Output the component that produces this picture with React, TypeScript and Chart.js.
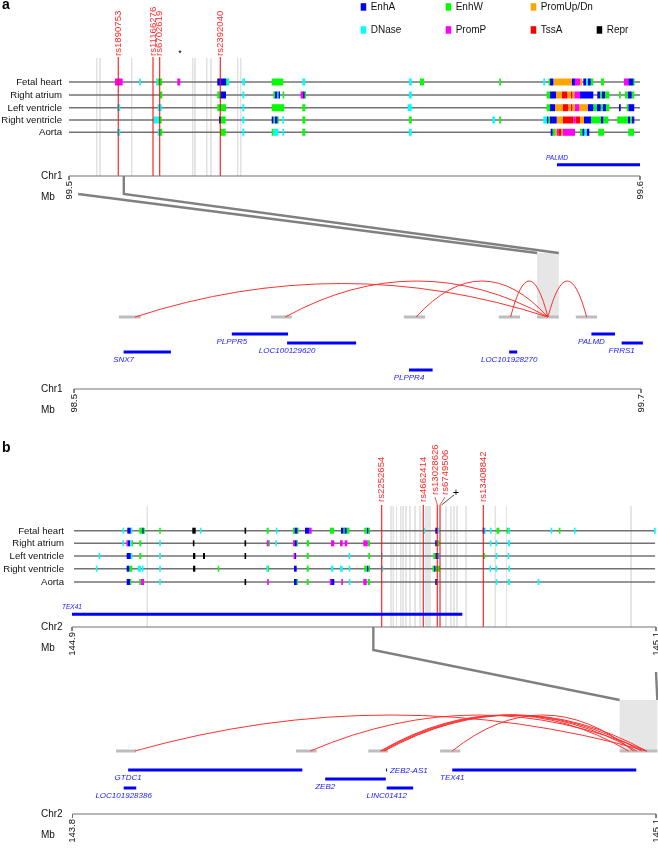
import React, { useEffect, useRef } from 'react';
import { Chart, registerables } from 'chart.js';

Chart.register(...registerables);

const W = 658;
const H = 850;
const FONT = '"Liberation Sans", Arial, Helvetica, sans-serif';

/* ---------------- chromatin states ---------------- */
const STATE_CODES = ['A', 'W', 'U', 'D', 'P', 'T', 'R'];
const STATE_NAMES = ['EnhA', 'EnhW', 'PromUp/Dn', 'DNase', 'PromP', 'TssA', 'Repr'];
const STATE_COLORS = ['#0000ff', '#00ff00', '#ffa500', '#00ffff', '#ff00ff', '#ff0000', '#000000'];
const TISSUES = ['Fetal heart', 'Right atrium', 'Left ventricle', 'Right ventricle', 'Aorta'];

/* ---------------- panel a : Chr1 ---------------- */
const A_CHR = 'Chr1';
const A_TOP_MB = [99.5, 99.6];
const A_LOW_MB = [98.5, 99.7];

// segments: [start kb, end kb (from 99.5 Mb), state]
const A_FETAL_HEART = [
  [8.06, 9.4, 'P'], [12.31, 12.61, 'D'], [15.3, 15.5, 'D'], [15.5, 16.3, 'W'], [18.97, 19.49, 'P'],
  [25.97, 27.5, 'A'], [27.5, 27.67, 'W'], [27.67, 28.07, 'D'], [30.35, 30.82, 'D'], [35.5, 37.53, 'W'],
  [40.86, 41.38, 'D'], [59.54, 60.02, 'D'], [61.47, 62.17, 'W'], [75.36, 75.66, 'W'], [83.06, 83.36, 'D'],
  [84.0, 84.24, 'W'], [84.24, 84.82, 'A'], [84.82, 88.04, 'U'], [88.04, 88.62, 'A'], [88.62, 89.49, 'P'],
  [89.49, 89.89, 'U'], [90.07, 90.54, 'A'], [90.54, 90.84, 'D'], [90.84, 91.37, 'A'], [91.37, 91.82, 'W'],
  [93.17, 93.69, 'W'], [97.2, 97.95, 'P'], [97.95, 98.83, 'A'], [98.83, 99.0, 'W'],
];
const A_RIGHT_ATRIUM = [
  [15.94, 16.34, 'W'], [25.97, 26.44, 'W'], [26.44, 27.5, 'A'], [30.35, 30.7, 'D'], [35.85, 36.0, 'W'],
  [36.0, 36.45, 'A'], [36.45, 36.65, 'D'], [36.65, 36.95, 'A'], [37.42, 37.7, 'W'], [40.57, 41.03, 'P'],
  [41.03, 41.2, 'A'], [41.2, 41.5, 'W'], [59.54, 60.02, 'D'], [83.66, 84.24, 'W'], [84.24, 85.29, 'A'],
  [85.29, 86.29, 'U'], [86.29, 87.27, 'T'], [87.27, 87.86, 'U'], [87.86, 88.14, 'T'], [88.14, 88.49, 'U'],
  [88.49, 89.49, 'P'], [89.49, 91.82, 'A'], [92.52, 92.99, 'A'], [92.99, 93.29, 'W'], [93.29, 93.87, 'A'],
  [93.87, 94.62, 'W'], [96.32, 96.62, 'W'], [97.37, 97.85, 'W'], [97.85, 98.55, 'A'], [98.55, 99.0, 'W'],
];
const A_LEFT_VENTRICLE = [
  [8.46, 8.98, 'D'], [15.53, 16.23, 'D'], [25.97, 27.5, 'W'], [30.35, 30.7, 'D'], [35.5, 37.7, 'W'],
  [40.86, 41.38, 'W'], [59.32, 60.02, 'D'], [83.66, 84.24, 'W'], [84.24, 85.12, 'A'], [85.12, 86.46, 'U'],
  [86.46, 87.44, 'T'], [87.44, 87.86, 'U'], [87.86, 88.14, 'T'], [88.14, 88.62, 'U'], [88.62, 89.37, 'P'],
  [89.37, 90.84, 'U'], [90.84, 91.82, 'A'], [91.82, 92.41, 'W'], [92.41, 93.11, 'A'], [93.11, 93.46, 'W'],
  [93.46, 94.04, 'A'], [94.04, 94.62, 'W'], [96.32, 96.62, 'A'], [97.67, 97.95, 'W'], [97.95, 99.0, 'A'],
];
const A_RIGHT_VENTRICLE = [
  [14.76, 15.76, 'D'], [15.76, 16.23, 'W'], [26.27, 26.62, 'A'], [26.62, 27.44, 'W'], [30.35, 30.7, 'D'],
  [35.5, 35.79, 'A'], [35.79, 36.08, 'W'], [36.08, 36.5, 'A'], [36.5, 36.67, 'W'], [37.36, 37.65, 'D'],
  [40.86, 41.38, 'W'], [59.54, 60.02, 'W'], [74.13, 74.6, 'D'], [75.36, 75.66, 'W'], [83.06, 83.66, 'D'],
  [83.66, 83.94, 'A'], [83.94, 84.24, 'W'], [84.24, 85.41, 'A'], [85.41, 86.46, 'U'], [86.46, 88.32, 'T'],
  [88.32, 88.74, 'P'], [88.74, 89.49, 'T'], [89.49, 90.19, 'U'], [90.19, 91.42, 'A'], [91.42, 93.11, 'W'],
  [93.11, 93.57, 'A'], [93.57, 94.45, 'W'], [96.02, 97.85, 'W'], [97.85, 98.25, 'A'], [98.25, 98.55, 'W'],
  [98.55, 99.0, 'A'],
];
const A_AORTA = [
  [8.46, 8.98, 'D'], [15.53, 15.94, 'D'], [15.94, 16.34, 'W'], [26.44, 27.44, 'W'], [30.35, 30.7, 'D'],
  [35.5, 35.79, 'W'], [35.79, 36.67, 'D'], [37.36, 37.65, 'D'], [40.86, 41.38, 'W'], [59.54, 60.02, 'D'],
  [84.36, 84.7, 'A'], [84.7, 85.12, 'W'], [85.12, 85.41, 'U'], [85.41, 85.69, 'P'], [85.69, 86.2, 'T'],
  [86.2, 86.5, 'U'], [86.5, 88.62, 'P'], [89.49, 89.89, 'W'], [89.89, 90.24, 'A'], [90.24, 90.66, 'D'],
  [90.66, 91.12, 'A'], [92.7, 93.69, 'W'], [97.95, 98.95, 'W'],
];
const A_TRACKS = [A_FETAL_HEART, A_RIGHT_ATRIUM, A_LEFT_VENTRICLE, A_RIGHT_VENTRICLE, A_AORTA];

const A_SNP_NAMES = ['rs1890753', 'rs11166276', 'rs6702619', 'rs2392040'];
const A_SNP_KB = [8.63, 14.71, 15.88, 26.5];
const A_GRAY_KB = [4.85, 5.43, 10.98, 21.66, 22.07, 24.12, 24.87, 29.54, 30.07];
const A_STAR_KB = 19.44;
const A_TOP_GENES = [{ name: 'PALMD', start: 85.46, end: 100 }];
const A_ZOOM_TOP_KB = [1.6, 9.6];
const A_ZOOM_LOW_MB = [99.48, 99.526];

const A_ANCHORS = [
  [98.595, 98.641], [98.917, 98.961], [99.198, 99.243], [99.399, 99.444], [99.48, 99.526], [99.562, 99.607],
];
// [from Mb, to Mb, relative height]
const A_LOOPS = [
  [98.629, 99.503, 0.93], [98.947, 99.503, 1], [99.224, 99.503, 1], [99.424, 99.503, 1], [99.503, 99.585, 1],
];
const A_GENES = [
  { name: 'PLPPR5', start: 98.834, end: 98.953, row: 0 },
  { name: 'LOC100129620', start: 98.951, end: 99.097, row: 1 },
  { name: 'SNX7', start: 98.605, end: 98.705, row: 2 },
  { name: 'LOC101928270', start: 99.421, end: 99.438, row: 2 },
  { name: 'PLPPR4', start: 99.209, end: 99.259, row: 4 },
  { name: 'PALMD', start: 99.595, end: 99.645, row: 0 },
  { name: 'FRRS1', start: 99.659, end: 99.704, row: 1 },
];

/* ---------------- panel b : Chr2 ---------------- */
const B_CHR = 'Chr2';
const B_TOP_MB = [144.9, 145.1];
const B_LOW_MB = [143.8, 145.1];

// segments: [start kb, end kb (from 144.9 Mb), state]
const B_FETAL_HEART = [
  [17.36, 17.81, 'D'], [18.94, 20.1, 'A'], [20.1, 20.65, 'D'], [23.05, 24.08, 'W'], [24.08, 24.42, 'A'],
  [24.42, 24.9, 'W'], [29.9, 30.38, 'W'], [41.2, 42.36, 'R'], [43.84, 44.28, 'D'], [59.14, 59.59, 'R'],
  [66.68, 67.36, 'W'], [69.86, 70.31, 'D'], [75.79, 76.13, 'W'], [76.13, 77.16, 'A'], [77.16, 77.5, 'W'],
  [79.79, 81.27, 'A'], [81.27, 82.09, 'P'], [88.36, 89.73, 'W'], [92.12, 92.91, 'A'], [92.91, 93.25, 'W'],
  [93.25, 94.07, 'A'], [94.07, 95.0, 'W'], [100.1, 100.92, 'W'], [100.92, 101.47, 'A'], [101.47, 102.05, 'W'],
  [120.31, 120.89, 'D'], [124.42, 125.1, 'A'], [125.1, 125.79, 'D'], [140.65, 141.2, 'A'], [141.2, 141.61, 'D'],
  [143.15, 143.66, 'D'], [145.38, 146.34, 'W'], [148.87, 149.42, 'W'], [149.42, 150.0, 'D'], [164.04, 164.38, 'D'],
  [166.88, 167.12, 'W'], [171.92, 172.43, 'D'], [199.32, 199.9, 'D'],
];
const B_RIGHT_ATRIUM = [
  [17.36, 17.81, 'D'], [18.73, 19.08, 'P'], [19.08, 19.86, 'A'], [19.86, 20.21, 'D'], [20.45, 20.79, 'W'],
  [23.05, 23.73, 'W'], [29.9, 30.38, 'D'], [41.44, 41.88, 'R'], [59.14, 59.59, 'R'], [66.68, 67.36, 'P'],
  [67.36, 67.7, 'W'], [69.76, 70.1, 'D'], [75.79, 76.13, 'P'], [76.13, 76.95, 'A'], [76.95, 77.3, 'W'],
  [80.38, 81.16, 'W'], [88.7, 89.83, 'P'], [91.78, 92.71, 'P'], [93.39, 94.28, 'P'], [99.76, 101.27, 'P'],
  [101.27, 102.05, 'W'], [124.42, 124.9, 'A'], [124.9, 125.79, 'W'], [143.15, 143.59, 'D'], [145.1, 145.65, 'D'],
  [149.21, 150.0, 'D'],
];
const B_LEFT_VENTRICLE = [
  [9.25, 9.59, 'D'], [18.73, 20.1, 'A'], [20.1, 20.65, 'D'], [23.05, 23.73, 'W'], [29.9, 30.38, 'D'],
  [41.44, 42.23, 'R'], [44.86, 45.55, 'R'], [59.14, 59.59, 'R'], [76.03, 76.27, 'P'], [76.27, 76.71, 'A'],
  [80.38, 81.06, 'W'], [94.86, 95.2, 'D'], [101.47, 102.05, 'W'], [105.82, 106.34, 'D'], [123.73, 124.42, 'W'],
  [124.42, 125.45, 'A'], [125.45, 125.79, 'D'], [140.86, 141.44, 'W'], [145.1, 145.65, 'D'], [149.21, 149.66, 'D'],
];
const B_RIGHT_VENTRICLE = [
  [8.22, 8.66, 'D'], [18.73, 19.62, 'A'], [19.62, 20.65, 'W'], [22.5, 23.63, 'D'], [23.97, 24.42, 'D'],
  [29.9, 30.38, 'D'], [41.44, 42.23, 'R'], [49.9, 50.45, 'W'], [66.68, 67.02, 'D'], [67.02, 67.36, 'W'],
  [76.03, 76.95, 'A'], [80.38, 81.06, 'W'], [88.7, 89.49, 'D'], [91.78, 92.71, 'D'], [94.86, 95.2, 'D'],
  [100.1, 100.92, 'W'], [100.92, 101.47, 'A'], [101.47, 102.05, 'W'], [106.06, 106.51, 'D'], [123.53, 123.97, 'W'],
  [123.97, 124.42, 'A'], [124.42, 126.03, 'W'], [142.98, 143.49, 'D'], [145.03, 145.62, 'D'], [149.49, 150.0, 'D'],
];
const B_AORTA = [
  [18.73, 19.86, 'A'], [19.86, 20.21, 'W'], [23.05, 23.53, 'W'], [23.53, 24.66, 'P'], [29.9, 30.38, 'D'],
  [59.14, 59.59, 'R'], [66.88, 67.36, 'P'], [76.03, 76.95, 'A'], [76.95, 77.3, 'W'], [80.38, 81.06, 'W'],
  [88.36, 88.7, 'P'], [88.7, 89.83, 'A'], [92.29, 92.71, 'P'], [94.86, 95.2, 'D'], [99.76, 100.92, 'P'],
  [101.27, 102.05, 'W'], [124.42, 124.9, 'A'], [124.9, 125.45, 'W'], [145.1, 145.65, 'D'], [149.21, 150.0, 'D'],
  [159.49, 160.1, 'D'],
];
const B_TRACKS = [B_FETAL_HEART, B_RIGHT_ATRIUM, B_LEFT_VENTRICLE, B_RIGHT_VENTRICLE, B_AORTA];

const B_SNP_NAMES = ['rs2252654', 'rs4662414', 'rs13028626', 'rs6749506', 'rs13408842'];
const B_SNP_KB = [106.06, 120.31, 125.1, 126.03, 140.86];
const B_GRAY_KB = [
  25.79, 109.25, 110.03, 111.13, 112.57, 113.36, 114.38, 115.75, 117.47, 119.18, 121.23, 121.92, 122.6,
  128.08, 129.79, 130.82, 131.85, 134.93, 144.97, 148.8, 191.44,
];
const B_TOP_GENES = [{ name: 'TEX41', start: 0, end: 133.66 }];
const B_ZOOM_TOP_KB = [103.2, 200];
const B_ZOOM_LOW_MB = [145.019, 145.103];

const B_ANCHORS = [
  [143.897, 143.942], [144.298, 144.344], [144.459, 144.503], [144.619, 144.664], [145.019, 145.103],
];
const B_LOOPS = [
  [143.939, 145.079, 1], [144.33, 145.079, 1], [144.486, 145.039, 1], [144.488, 145.057, 1],
  [144.492, 145.068, 1], [144.495, 145.079, 1], [144.646, 145.05, 1],
];
const B_GENES = [
  { name: 'GTDC1', start: 143.924, end: 144.312, row: 0 },
  { name: 'LOC101928386', start: 143.914, end: 143.942, row: 2 },
  { name: 'ZEB2', start: 144.363, end: 144.498, row: 1 },
  { name: 'ZEB2-AS1', start: 144.4985, end: 144.5005, row: 0, side: true },
  { name: 'LINC01412', start: 144.5, end: 144.559, row: 2 },
  { name: 'TEX41', start: 144.646, end: 145.056, row: 0 },
];

/* ---------------- layout (pixels) ---------------- */
const LAY = {
  a: {
    topPx: [69, 640], lowPx: [74, 641], rows: [82, 95, 107.7, 120, 132.3], boxH: 7, trackX: [0, 100],
    trackLabelX: 62, snpTop: 57, grayTop: 58, starY: 52, topGeneY: 164.7,
    axisY: 176, mbY: 197, bendY: 194, boxTop: 253, anchorY: 317, arcH: 36, geneY0: 334, geneDy: 9,
    lowAxisY: 389, lowMbY: 410, panelY: 9, panel: 'a',
    connStart: [194, 176], snpLabelDx: [0, 0, 0, 0], snpLabelBottoms: [56, 56, 56, 56],
  },
  b: {
    topPx: [72, 656], lowPx: [72.5, 656], rows: [530.7, 543.3, 556, 568.7, 582], boxH: 6, trackX: [0.7, 199.7],
    trackLabelX: 64, snpTop: 505, grayTop: 506, starY: 0, topGeneY: 614.3,
    axisY: 627, mbY: 648, bendY: 650, boxTop: 700, anchorY: 751, arcH: 36, geneY0: 770, geneDy: 9,
    lowAxisY: 814, lowMbY: 835, panelY: 452, panel: 'b',
    connStart: [627, 672], snpLabelDx: [0, 0, -2.3, 5, 0], snpLabelBottoms: [502, 502, 495, 495, 502],
  },
};
const LEGEND_COLS = [360.7, 445.7, 530.7, 596.7];
const LEGEND_ROWS = [7, 30];
const LEGEND_POS = [[0, 0], [0, 1], [0, 2], [1, 0], [1, 1], [1, 2], [1, 3]];

function scaleRange(v0: number, v1: number, p0: number, p1: number) {
  const k = (p1 - p0) / (v1 - v0);
  return { min: v0 - p0 / k, max: v0 + (W - p0) / k };
}

const stateColor = (c: string) => STATE_COLORS[STATE_CODES.indexOf(c)];

function buildDatasets() {
  const ds: any[] = [];
  const line = (axis: string, pts: number[][], color: string, width: number, order: number, cap = 'butt') =>
    ds.push({
      type: 'line', xAxisID: axis, yAxisID: 'y', data: pts.map(([x, y]) => ({ x, y })),
      borderColor: color, backgroundColor: color, borderWidth: width, borderCapStyle: cap,
      pointRadius: 0, pointHoverRadius: 0, pointHitRadius: 0, fill: false, tension: 0, order,
    });

  const panels = [
    { L: LAY.a, top: 'xa', low: 'xaL', tracks: A_TRACKS, snps: A_SNP_KB, gray: A_GRAY_KB, topGenes: A_TOP_GENES,
      anchors: A_ANCHORS, genes: A_GENES, topMb: A_TOP_MB, lowMb: A_LOW_MB },
    { L: LAY.b, top: 'xb', low: 'xbL', tracks: B_TRACKS, snps: B_SNP_KB, gray: B_GRAY_KB, topGenes: B_TOP_GENES,
      anchors: B_ANCHORS, genes: B_GENES, topMb: B_TOP_MB, lowMb: B_LOW_MB },
  ];
  panels.forEach((p) => {
    const L = p.L;
    const topKb = (p.topMb[1] - p.topMb[0]) * 1000;
    const kbPerPx = topKb / (L.topPx[1] - L.topPx[0]);
    const minW = 1.6 * kbPerPx;
    p.gray.forEach((k) => line(p.top, [[k, L.grayTop], [k, L.axisY]], '#e2e2e2', 1, 60));
    L.rows.forEach((y) => line(p.top, [[L.trackX[0], y], [L.trackX[1], y]], '#737373', 1.4, 40));
    p.tracks.forEach((segs: any[], i: number) => {
      const y = L.rows[i];
      segs.forEach(([s, e, c]) => {
        let a = s, b = e;
        if (b - a < minW) { const m = (a + b) / 2; a = m - minW / 2; b = m + minW / 2; }
        line(p.top, [[a, y], [b, y]], stateColor(c), L.boxH, 30);
      });
    });
    p.snps.forEach((k) => line(p.top, [[k, L.snpTop], [k, L.axisY]], 'rgba(255,0,0,0.85)', 1.2, 20));
    p.topGenes.forEach((g) => line(p.top, [[g.start, L.topGeneY], [g.end, L.topGeneY]], '#0000ff', 3, 10));
    line(p.top, [[0, L.axisY], [topKb, L.axisY]], '#707070', 1, 5);
    line(p.top, [[0, L.axisY], [0, L.axisY + 4]], '#707070', 1, 5);
    line(p.top, [[topKb, L.axisY], [topKb, L.axisY + 4]], '#707070', 1, 5);
    p.anchors.forEach(([s, e]) => line(p.low, [[s, L.anchorY], [e, L.anchorY]], '#bdbdbd', 3, 15));
    p.genes.forEach((g: any) => {
      const y = L.geneY0 + g.row * L.geneDy;
      const lowMbPerPx = (p.lowMb[1] - p.lowMb[0]) / (L.lowPx[1] - L.lowPx[0]);
      let a = g.start, b = g.end;
      if (b - a < lowMbPerPx) { const m = (a + b) / 2; a = m - lowMbPerPx / 2; b = m + lowMbPerPx / 2; }
      line(p.low, [[a, y], [b, y]], '#0000ff', 3, 10);
    });
    line(p.low, [[p.lowMb[0], L.lowAxisY], [p.lowMb[1], L.lowAxisY]], '#707070', 1, 5);
    line(p.low, [[p.lowMb[0], L.lowAxisY], [p.lowMb[0], L.lowAxisY + 4]], '#707070', 1, 5);
    line(p.low, [[p.lowMb[1], L.lowAxisY], [p.lowMb[1], L.lowAxisY + 4]], '#707070', 1, 5);
  });
  return ds;
}

function txt(ctx: CanvasRenderingContext2D, s: string, x: number, y: number, o: any = {}) {
  ctx.save();
  ctx.font = `${o.style || ''} ${o.size || 10}px ${FONT}`;
  ctx.fillStyle = o.color || '#111';
  ctx.textAlign = o.align || 'left';
  ctx.textBaseline = o.base || 'middle';
  ctx.translate(x, y);
  if (o.rot) ctx.rotate(o.rot);
  ctx.fillText(s, 0, 0);
  ctx.restore();
}

const genomePlugin = {
  id: 'genomePlugin',
  beforeDatasetsDraw(chart: any) {
    const ctx = chart.ctx;
    const s = chart.scales;
    ctx.save();
    ctx.fillStyle = '#e6e6e6';
    const boxes = [
      { ax: s.xaL, r: A_ZOOM_LOW_MB, L: LAY.a },
      { ax: s.xbL, r: B_ZOOM_LOW_MB, L: LAY.b },
    ];
    boxes.forEach(({ ax, r, L }) => {
      const x0 = ax.getPixelForValue(r[0]);
      const x1 = ax.getPixelForValue(r[1]);
      const y0 = s.y.getPixelForValue(L.boxTop);
      const y1 = s.y.getPixelForValue(L.anchorY);
      ctx.fillRect(x0, y0, x1 - x0, y1 - y0);
    });
    ctx.restore();
  },
  afterDatasetsDraw(chart: any) {
    const ctx: CanvasRenderingContext2D = chart.ctx;
    const s = chart.scales;
    const Y = (v: number) => s.y.getPixelForValue(v);
    const ROT = -Math.PI / 2;

    STATE_CODES.forEach((c, i) => {
      const [r, col] = LEGEND_POS[i];
      const x = LEGEND_COLS[col];
      const y = Y(LEGEND_ROWS[r]);
      ctx.fillStyle = STATE_COLORS[i];
      ctx.fillRect(x, y - 3.8, 5.5, 7.5);
      txt(ctx, STATE_NAMES[i], x + 10, y + 0.5, { size: 10, color: '#111' });
    });

    const panels = [
      { L: LAY.a, top: s.xa, low: s.xaL, chr: A_CHR, topMb: A_TOP_MB, lowMb: A_LOW_MB, snpNames: A_SNP_NAMES,
        snps: A_SNP_KB, topGenes: A_TOP_GENES, genes: A_GENES, loops: A_LOOPS, zt: A_ZOOM_TOP_KB, zl: A_ZOOM_LOW_MB },
      { L: LAY.b, top: s.xb, low: s.xbL, chr: B_CHR, topMb: B_TOP_MB, lowMb: B_LOW_MB, snpNames: B_SNP_NAMES,
        snps: B_SNP_KB, topGenes: B_TOP_GENES, genes: B_GENES, loops: B_LOOPS, zt: B_ZOOM_TOP_KB, zl: B_ZOOM_LOW_MB },
    ];
    panels.forEach((p) => {
      const L: any = p.L;
      const topKb = (p.topMb[1] - p.topMb[0]) * 1000;
      txt(ctx, L.panel, 2, Y(L.panelY), { size: 14, style: 'bold', base: 'alphabetic', color: '#000' });
      TISSUES.forEach((t, i) => txt(ctx, t, L.trackLabelX, Y(L.rows[i]) + 0.5, { size: 9.6, align: 'right' }));
      p.snpNames.forEach((n, i) => {
        const x = p.top.getPixelForValue(p.snps[i]);
        const lx = x + L.snpLabelDx[i];
        const by = Y(L.snpLabelBottoms[i]);
        txt(ctx, n, lx, by, { size: 9.6, color: '#ff2a2a', rot: ROT });
        if (L.snpLabelDx[i] !== 0) {
          ctx.save();
          ctx.strokeStyle = 'rgba(255,0,0,0.85)';
          ctx.lineWidth = 0.8;
          ctx.beginPath();
          ctx.moveTo(lx, by + 2);
          ctx.lineTo(x, Y(L.snpTop));
          ctx.stroke();
          ctx.restore();
        }
      });
      if (L.panel === 'a') {
        txt(ctx, '*', p.top.getPixelForValue(A_STAR_KB), Y(L.starY + 2), { size: 9, align: 'center', color: '#000' });
      } else {
        const x = p.top.getPixelForValue(B_SNP_KB[3]);
        ctx.save();
        ctx.strokeStyle = '#222';
        ctx.lineWidth = 0.8;
        ctx.beginPath();
        ctx.moveTo(x + 1.5, Y(L.snpTop));
        ctx.lineTo(x + 14, Y(L.snpTop - 10));
        ctx.stroke();
        ctx.restore();
        txt(ctx, '+', x + 16, Y(L.snpTop - 12), { size: 11, align: 'center', color: '#000' });
      }
      p.topGenes.forEach((g) =>
        txt(ctx, g.name, p.top.getPixelForValue(g.start), Y(L.topGeneY - 7), { size: 6.5, style: 'italic', align: 'center', color: '#2020ff' })
      );
      txt(ctx, p.chr, 41, Y(L.axisY), { size: 10 });
      txt(ctx, 'Mb', 41, Y(L.mbY), { size: 10 });
      txt(ctx, p.topMb[0].toFixed(1), p.top.getPixelForValue(0), Y(L.axisY + 5), { size: 9.5, align: 'right', rot: ROT });
      txt(ctx, p.topMb[1].toFixed(1), p.top.getPixelForValue(topKb), Y(L.axisY + 5), { size: 9.5, align: 'right', rot: ROT });
      txt(ctx, p.chr, 41, Y(L.lowAxisY), { size: 10 });
      txt(ctx, 'Mb', 41, Y(L.lowMbY), { size: 10 });
      txt(ctx, p.lowMb[0].toFixed(1), p.low.getPixelForValue(p.lowMb[0]), Y(L.lowAxisY + 5), { size: 9.5, align: 'right', rot: ROT });
      txt(ctx, p.lowMb[1].toFixed(1), p.low.getPixelForValue(p.lowMb[1]), Y(L.lowAxisY + 5), { size: 9.5, align: 'right', rot: ROT });
      ctx.save();
      ctx.strokeStyle = '#808080';
      ctx.lineWidth = 2.4;
      ctx.lineJoin = 'miter';
      const xl0 = p.top.getPixelForValue(p.zt[0]);
      const xl1 = p.top.getPixelForValue(p.zt[1]);
      const xb0 = p.low.getPixelForValue(p.zl[0]);
      const xb1 = p.low.getPixelForValue(p.zl[1]);
      const bendY = Y(L.bendY);
      const boxTop = Y(L.boxTop);
      [[xl0, xb0, L.connStart[0]], [xl1, xb1, L.connStart[1]]].forEach(([xt, xbm, sy]) => {
        ctx.beginPath();
        const startY = Y(sy);
        ctx.moveTo(xt, startY);
        if (startY < bendY) ctx.lineTo(xt, bendY);
        ctx.lineTo(xbm, boxTop);
        ctx.stroke();
      });
      ctx.restore();
      ctx.save();
      ctx.strokeStyle = '#ff3030';
      ctx.lineWidth = 1;
      const by = Y(L.anchorY);
      p.loops.forEach(([a, b, h]) => {
        const x0 = p.low.getPixelForValue(a);
        const x1 = p.low.getPixelForValue(b);
        const ht = L.arcH * h;
        ctx.beginPath();
        ctx.moveTo(x0, by);
        ctx.quadraticCurveTo((x0 + x1) / 2, by - 2 * ht, x1, by);
        ctx.stroke();
      });
      ctx.restore();
      p.genes.forEach((g: any) => {
        const y = Y(L.geneY0 + g.row * L.geneDy);
        if (g.side) {
          txt(ctx, g.name, p.low.getPixelForValue(g.end) + 3, y + 0.5, { size: 8, style: 'italic', color: '#2020ff' });
        } else {
          txt(ctx, g.name, p.low.getPixelForValue(g.start), y + 7.5, { size: 8, style: 'italic', align: 'center', color: '#2020ff' });
        }
      });
    });
  },
};

export default function App() {
  const ref = useRef<HTMLCanvasElement>(null);
  useEffect(() => {
    if (!ref.current) return;
    const rA = scaleRange(0, 100, LAY.a.topPx[0], LAY.a.topPx[1]);
    const rAL = scaleRange(A_LOW_MB[0], A_LOW_MB[1], LAY.a.lowPx[0], LAY.a.lowPx[1]);
    const rB = scaleRange(0, 200, LAY.b.topPx[0], LAY.b.topPx[1]);
    const rBL = scaleRange(B_LOW_MB[0], B_LOW_MB[1], LAY.b.lowPx[0], LAY.b.lowPx[1]);
    const chart = new Chart(ref.current, {
      type: 'line',
      data: { datasets: buildDatasets() },
      options: {
        responsive: false,
        maintainAspectRatio: false,
        animation: false,
        devicePixelRatio: 1,
        events: [],
        layout: { padding: 0 },
        plugins: { legend: { display: false }, tooltip: { enabled: false }, title: { display: false } },
        scales: {
          xa: { type: 'linear', display: false, min: rA.min, max: rA.max },
          xaL: { type: 'linear', display: false, min: rAL.min, max: rAL.max },
          xb: { type: 'linear', display: false, min: rB.min, max: rB.max },
          xbL: { type: 'linear', display: false, min: rBL.min, max: rBL.max },
          y: { type: 'linear', display: false, min: 0, max: H, reverse: true },
        },
      } as any,
      plugins: [genomePlugin as any],
    });
    return () => chart.destroy();
  }, []);
  return (
    <div style={{ position: 'absolute', left: 0, top: 0, width: W, height: H, background: '#fff' }}>
      <canvas ref={ref} width={W} height={H} style={{ width: W, height: H, display: 'block' }} />
    </div>
  );
}
